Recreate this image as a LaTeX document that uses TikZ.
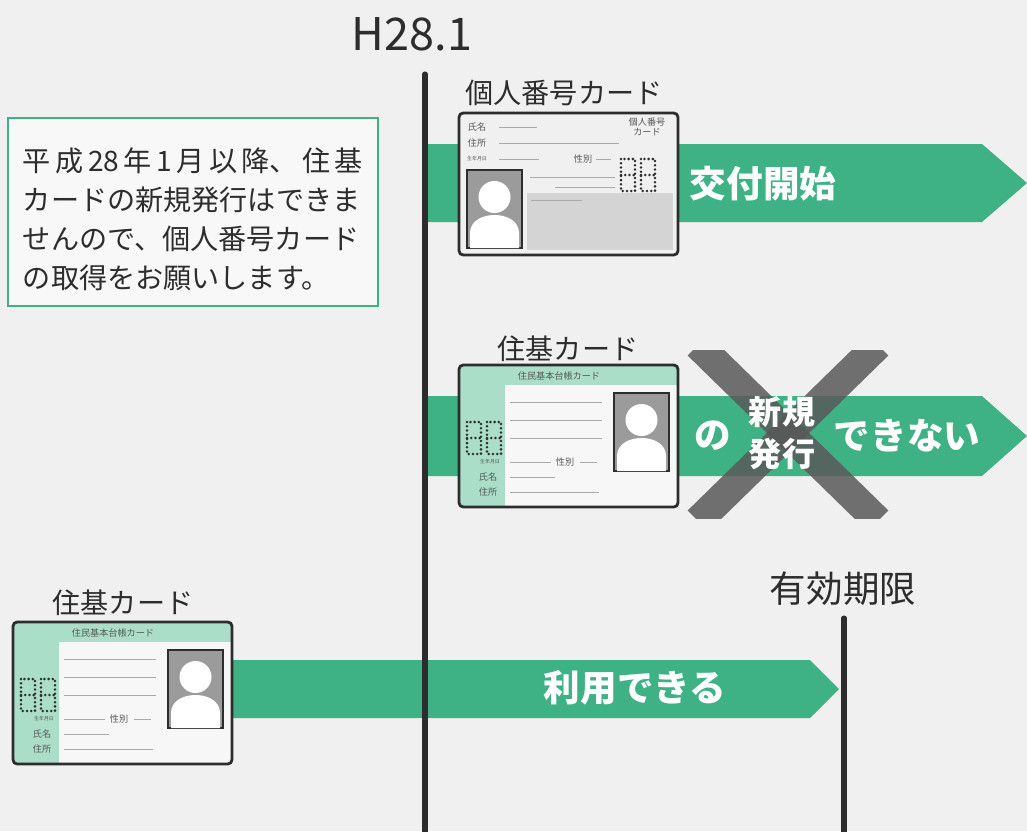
\documentclass[tikz,border=0pt]{standalone}
\usepackage{fontspec}
\setmainfont{Noto Sans CJK JP}
\usepackage{xcolor}
\usepackage{tikz}
\usetikzlibrary{positioning,calc}

\definecolor{bandgreen}{RGB}{62,178,132}
\definecolor{mint}{RGB}{170,222,200}
\definecolor{paper}{RGB}{240,240,240}
\definecolor{ink}{RGB}{45,45,45}
\definecolor{photogray}{RGB}{155,155,155}
\definecolor{fieldgray}{RGB}{170,170,170}
\definecolor{areagray}{RGB}{212,212,212}

\tikzset{
  fieldline/.style={fieldgray, line width=0.5pt},
  cardtiny/.style={text=ink!80, inner sep=0pt, font=\fontsize{6.5}{7}\selectfont},
  cardtinier/.style={text=ink!80, inner sep=0pt, font=\fontsize{3.5}{4}\selectfont},
  % portrait with a white silhouette
  pics/idphoto/.style={code={
    \draw[ink, line width=0.8pt, fill=photogray] (0,0) rectangle (55,78);
    \fill[white] (27.5,27) circle (16);
    \fill[white] (3,78) -- (3,63) .. controls (3,51) and (15,45) .. (27.5,45)
      .. controls (40,45) and (52,51) .. (52,63) -- (52,78) -- cycle;
  }},
  % dotted number mark
  pics/chipmark/.style={code={
    \foreach \dx in {0,20} {
      \draw[ink, line width=2pt, line cap=round, dash pattern=on 0pt off 3pt]
        (\dx,0) rectangle ++(14,32) (\dx,16) -- ++(14,0);
    }
  }},
  pics/mynumcard/.style={code={
    \draw[ink, line width=2pt, rounded corners=3pt, fill=white!94!black] (0,0) rectangle (219,142);
    \fill[areagray] (68,80) rectangle (214,137);
    \draw[fieldline] (40,14) -- (78,14) (40,30) -- (160,30) (40,46) -- (80,46)
      (137,46) -- (152,46) (71,64) -- (156,64) (96,74) -- (156,74) (72,87) -- (123,87);
    \node[cardtiny] (-name) at (18,14) {氏名};
    \node[cardtiny] (-addr) at (18,30) {住所};
    \node[cardtinier] (-birth) at (18,46) {生年月日};
    \node[cardtiny] (-sex) at (124,46) {性別};
    \node[cardtiny, align=center] (-title) at (188,14) {個人番号\\カード};
    \pic at (162,46) {chipmark};
    \pic at (8,57) {idphoto};
  }},
  pics/jukicard/.style={code={
    \fill[mint, rounded corners=3pt] (0,0) rectangle (219,142);
    \fill[white!97!black] (46,20) rectangle (217.5,140.5);
    \draw[ink, line width=2pt, rounded corners=3pt] (0,0) rectangle (219,142);
    \draw[fieldline] (51,37) -- (143,37) (51,55) -- (143,55) (51,73) -- (143,73)
      (51,97) -- (92,97) (121,97) -- (138,97) (51,112) -- (96,112) (51,127) -- (140,127);
    \node[cardtiny] (-title) at (100,11) {住民基本台帳カード};
    \node[cardtiny] (-sex) at (106,97) {性別};
    \node[cardtinier] (-birth) at (31,97) {生年月日};
    \node[cardtiny] (-name) at (29,112) {氏名};
    \node[cardtiny] (-addr) at (29,127) {住所};
    \pic at (8,57) {chipmark};
    \pic at (155,28) {idphoto};
  }}
}

\begin{document}
\begin{tikzpicture}[x=0.025cm, y=-0.025cm,
    timeline/.style={ink, line width=3.6pt, line cap=round},
    label/.style={text=ink, inner sep=0pt, font=\fontsize{20}{20}\selectfont},
    bandtext/.style={text=white, inner sep=0pt, font=\fontsize{26}{26}\selectfont\bfseries},
    xmark/.style={black!65, opacity=0.85, line width=21pt}]
  \useasboundingbox[fill=paper] (0,0) rectangle (1027,831);

  % green bands
  \fill[bandgreen] (427,144) -- (982,144) -- (1027,183) -- (982,222) -- (427,222) -- cycle;
  \fill[bandgreen] (427,396) -- (982,396) -- (1027,436) -- (982,476) -- (427,476) -- cycle;
  \fill[bandgreen] (233,660) -- (810,660) -- (839,689) -- (810,718) -- (233,718) -- cycle;

  % cross over the second band
  \begin{scope}
    \clip (680,350) rectangle (900,518);
    \draw[xmark] (698,345) -- (878,521);
    \draw[xmark] (878,345) -- (698,521);
  \end{scope}

  % time lines
  \coordinate (starttop) at (425,74);
  \coordinate (startbot) at (425,840);
  \coordinate (endtop) at (844,618);
  \coordinate (endbot) at (844,840);
  \draw[timeline] (starttop) -- (startbot);
  \draw[timeline] (endtop) -- (endbot);
  \node[label, font=\fontsize{32}{32}\selectfont] (start) at (412,34) {H28.1};
  \node[label, font=\fontsize{26}{26}\selectfont] (expiry) at (843,589) {有効期限};

  % cards
  \pic (numcard) at (459,113) {mynumcard};
  \pic (newjuki) at (459,365) {jukicard};
  \pic (oldjuki) at (13,622) {jukicard};
  \node[label] (numlabel) at (564,93) {個人番号カード};
  \node[label] (newlabel) at (568,349) {住基カード};
  \node[label] (oldlabel) at (123,603) {住基カード};

  % band texts
  \node[bandtext] (issue) at (763,184) {交付開始};
  \node[bandtext] (no) at (713,436) {の};
  \node[bandtext, align=center, font=\fontsize{23.5}{30}\selectfont\bfseries] (newissue) at (782,433) {新規\\発行};
  \node[bandtext] (cannot) at (907,436) {できない};
  \node[bandtext] (usable) at (635,688) {利用できる};

  % notice box
  \node[draw=bandgreen, line width=2pt, fill=white!50!paper,
        minimum width=9.25cm, minimum height=4.7cm] (notice) at (193,212) {};
  \node[text=ink, text width=8.5cm, align=left, inner sep=0pt,
        font=\fontsize{20}{27.7}\selectfont] (noticetext) at ($(notice.center)+(0,7)$)
    {\makebox[8.5cm][s]{平\hfil 成\hfil 28\hfil 年\hfil 1\hfil 月\hfil 以\hfil 降、\hfil 住\hfil 基}\\
     カードの新規発行はできま\\
     せんので、個人番号カード\\
     の取得をお願いします。};
\end{tikzpicture}
\end{document}
